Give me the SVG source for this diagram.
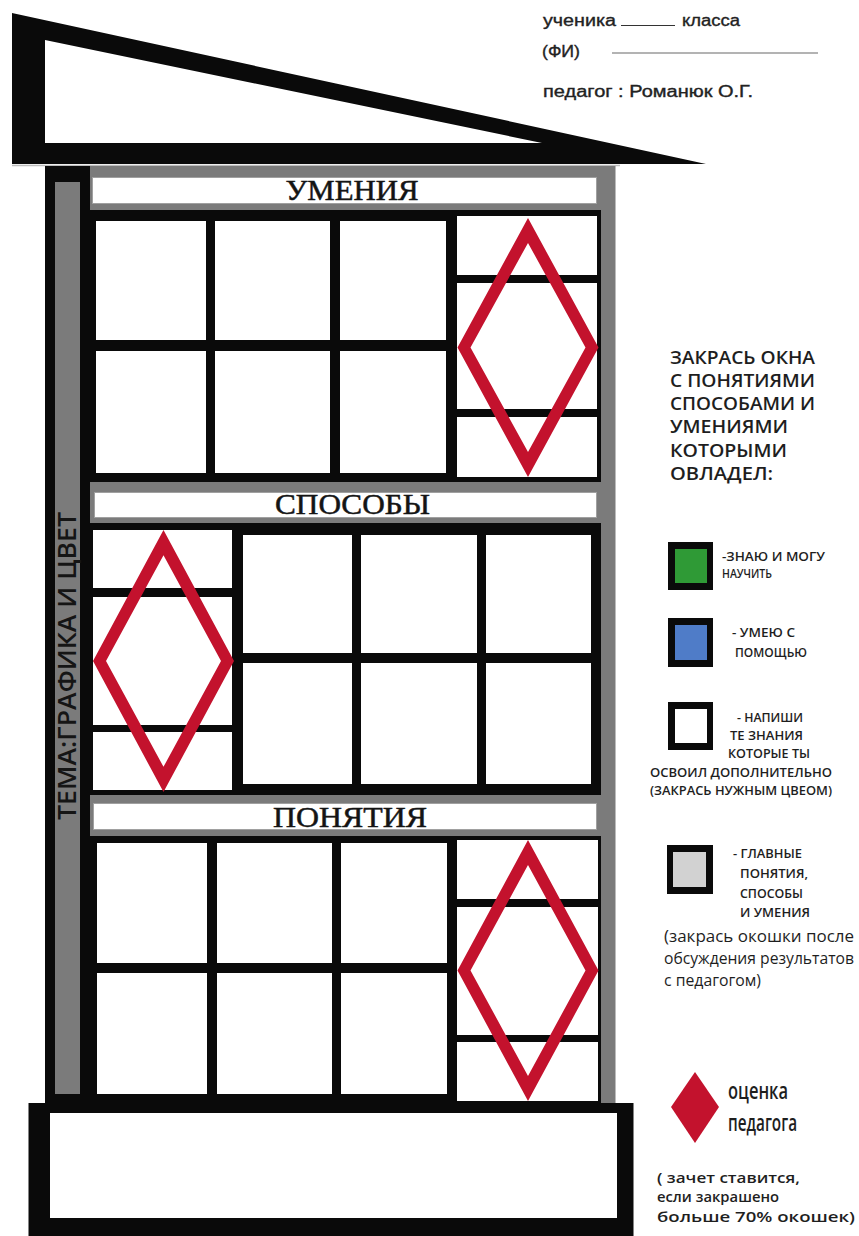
<svg xmlns="http://www.w3.org/2000/svg" xmlns:xlink="http://www.w3.org/1999/xlink" width="859" height="1236" viewBox="0 0 859 1236">
<style>
.blk{fill:#0a0a0a}
.cell{fill:#ffffff}
.gry{fill:#7b7b7b}
.lbl{fill:#ffffff;stroke:#a0a0a0;stroke-width:1}
.dia{fill:#c3122d;fill-rule:evenodd}
.sec{font-family:"Liberation Serif","Times New Roman",serif;font-size:30px;fill:#141414;text-anchor:middle;stroke:#141414;stroke-width:0.5}
.hdr{font-family:"Liberation Sans",Arial,sans-serif;font-size:16px;fill:#222;stroke:#222;stroke-width:0.35}
.lg{font-family:"Open Sans","Liberation Sans",sans-serif;fill:#1e1e1e;font-weight:600}
.big{font-size:18.5px}
.sm{font-size:13px}
.md{font-size:16px;font-weight:400}
</style>
<defs>
<path id="dia" class="dia" d="M0,-130 L70.5,0 L0,130 L-70.5,0 Z M0,-105 L-57.5,0 L0,105 L57.5,0 Z"/>
</defs>
<rect width="859" height="1236" fill="#ffffff"/>

<g id="roof">
<path class="blk" fill-rule="evenodd" d="M12,13 L706,164 L12,164 Z M45,40 L45,143 L542,143 Z"/>
<line x1="12" y1="165.5" x2="620" y2="165.5" stroke="#bdbdbd" stroke-width="1.5"/>
</g>

<g id="header">
<text class="hdr" x="543" y="26" textLength="73" lengthAdjust="spacingAndGlyphs">ученика</text>
<line x1="621" y1="25.5" x2="675" y2="25.5" stroke="#333" stroke-width="1"/>
<text class="hdr" x="682" y="26" textLength="58" lengthAdjust="spacingAndGlyphs">класса</text>
<text class="hdr" x="542" y="57" textLength="38" lengthAdjust="spacingAndGlyphs">(ФИ)</text>
<line x1="612" y1="53" x2="818" y2="53" stroke="#9a9a9a" stroke-width="1.5"/>
<text class="hdr" x="543" y="97" textLength="210" lengthAdjust="spacingAndGlyphs">педагог : Романюк О.Г.</text>
</g>

<g id="building">
<rect class="blk" x="45" y="166" width="46" height="937"/>
<rect class="gry" x="90" y="166" width="525.5" height="937"/>
<rect class="gry" x="55" y="182" width="25" height="912"/>
<text x="0" y="0" transform="translate(75.5,666) rotate(-90)" text-anchor="middle" font-family="'Open Sans','Liberation Sans',sans-serif" font-size="25" font-weight="600" fill="#151515" textLength="308" lengthAdjust="spacingAndGlyphs">ТЕМА:ГРАФИКА И ЦВЕТ</text>
</g>

<g id="section-umeniya">
<rect class="lbl" x="92.5" y="177.5" width="504" height="26"/>
<text class="sec" x="352" y="200" textLength="133" lengthAdjust="spacingAndGlyphs">УМЕНИЯ</text>
<rect class="blk" x="86" y="210" width="515" height="272"/>
<rect class="cell" x="96" y="221" width="110" height="119"/>
<rect class="cell" x="215" y="221" width="115" height="119"/>
<rect class="cell" x="340" y="221" width="106" height="119"/>
<rect class="cell" x="96" y="351" width="110" height="122"/>
<rect class="cell" x="215" y="351" width="115" height="122"/>
<rect class="cell" x="340" y="351" width="106" height="122"/>
<rect class="cell" x="457" y="216" width="140" height="59"/>
<rect class="cell" x="457" y="283" width="140" height="126"/>
<rect class="cell" x="457" y="417" width="140" height="60"/>
<use xlink:href="#dia" href="#dia" transform="translate(528,347.5) scale(1,0.996)"/>
</g>

<g id="section-sposoby">
<rect class="lbl" x="94.5" y="492.5" width="502" height="25"/>
<text class="sec" x="352.5" y="514" textLength="155" lengthAdjust="spacingAndGlyphs">СПОСОБЫ</text>
<rect class="blk" x="86" y="523" width="515" height="272"/>
<rect class="cell" x="93" y="530" width="139" height="58"/>
<rect class="cell" x="93" y="597" width="139" height="128"/>
<rect class="cell" x="93" y="732" width="139" height="58"/>
<rect class="cell" x="243" y="535" width="109" height="118"/>
<rect class="cell" x="361" y="535" width="116" height="118"/>
<rect class="cell" x="486" y="535" width="105" height="118"/>
<rect class="cell" x="243" y="663" width="109" height="121"/>
<rect class="cell" x="361" y="663" width="116" height="121"/>
<rect class="cell" x="486" y="663" width="105" height="121"/>
<use xlink:href="#dia" href="#dia" transform="translate(163.5,661) scale(1,1.008)"/>
</g>

<g id="section-ponyatiya">
<rect class="lbl" x="93.5" y="803.5" width="503" height="26"/>
<text class="sec" x="350" y="827" textLength="154" lengthAdjust="spacingAndGlyphs">ПОНЯТИЯ</text>
<rect class="blk" x="86" y="836" width="515" height="267"/>
<rect class="cell" x="97" y="843" width="110" height="120"/>
<rect class="cell" x="217" y="843" width="115" height="120"/>
<rect class="cell" x="341" y="843" width="106" height="120"/>
<rect class="cell" x="97" y="973" width="110" height="121"/>
<rect class="cell" x="217" y="973" width="115" height="121"/>
<rect class="cell" x="341" y="973" width="106" height="121"/>
<rect class="cell" x="457" y="840" width="141" height="59"/>
<rect class="cell" x="457" y="907" width="141" height="128"/>
<rect class="cell" x="457" y="1042" width="141" height="59"/>
<use xlink:href="#dia" href="#dia" transform="translate(528,970.5) scale(1,1.004)"/>
</g>

<g id="base">
<rect class="blk" x="28.5" y="1103" width="605" height="133"/>
<rect class="cell" x="50" y="1113" width="567" height="105"/>
</g>

<g id="legend-title">
<text class="lg big" x="670" y="363.5" textLength="145" lengthAdjust="spacingAndGlyphs">ЗАКРАСЬ ОКНА</text>
<text class="lg big" x="670" y="386.5" textLength="145" lengthAdjust="spacingAndGlyphs">С ПОНЯТИЯМИ</text>
<text class="lg big" x="670" y="409.5" textLength="145" lengthAdjust="spacingAndGlyphs">СПОСОБАМИ И</text>
<text class="lg big" x="670" y="433" textLength="118" lengthAdjust="spacingAndGlyphs">УМЕНИЯМИ</text>
<text class="lg big" x="670" y="456.5" textLength="117" lengthAdjust="spacingAndGlyphs">КОТОРЫМИ</text>
<text class="lg big" x="670" y="480" textLength="103" lengthAdjust="spacingAndGlyphs">ОВЛАДЕЛ:</text>
</g>

<g id="legend-green">
<rect class="blk" x="668" y="542" width="45" height="48"/>
<rect x="675" y="549" width="32" height="34" fill="#2f9a36"/>
<text class="lg sm" x="722" y="561" textLength="103" lengthAdjust="spacingAndGlyphs">-ЗНАЮ И МОГУ</text>
<text class="lg sm" x="722" y="578" textLength="50" lengthAdjust="spacingAndGlyphs">НАУЧИТЬ</text>
</g>

<g id="legend-blue">
<rect class="blk" x="668" y="618" width="45" height="49"/>
<rect x="675" y="625" width="32" height="35" fill="#4f7cc8"/>
<text class="lg sm" x="732" y="637" textLength="63" lengthAdjust="spacingAndGlyphs">- УМЕЮ С</text>
<text class="lg sm" x="735" y="656.5" textLength="72" lengthAdjust="spacingAndGlyphs">ПОМОЩЬЮ</text>
</g>

<g id="legend-white">
<rect class="blk" x="668" y="702" width="45" height="48"/>
<rect x="675" y="709" width="32" height="34" fill="#ffffff"/>
<text class="lg sm" x="737" y="721.5" textLength="66" lengthAdjust="spacingAndGlyphs">- НАПИШИ</text>
<text class="lg sm" x="730" y="739.5" textLength="73" lengthAdjust="spacingAndGlyphs">ТЕ ЗНАНИЯ</text>
<text class="lg sm" x="728" y="757.5" textLength="82" lengthAdjust="spacingAndGlyphs">КОТОРЫЕ ТЫ</text>
<text class="lg sm" x="650" y="776.5" textLength="182" lengthAdjust="spacingAndGlyphs">ОСВОИЛ ДОПОЛНИТЕЛЬНО</text>
<text class="lg sm" x="650" y="795" textLength="182" lengthAdjust="spacingAndGlyphs">(ЗАКРАСЬ НУЖНЫМ ЦВЕОМ)</text>
</g>

<g id="legend-gray">
<rect class="blk" x="667" y="845" width="46" height="49"/>
<rect x="673" y="852" width="33" height="35" fill="#d2d2d2"/>
<text class="lg sm" x="733" y="858" textLength="69" lengthAdjust="spacingAndGlyphs">- ГЛАВНЫЕ</text>
<text class="lg sm" x="740" y="878" textLength="68" lengthAdjust="spacingAndGlyphs">ПОНЯТИЯ,</text>
<text class="lg sm" x="740" y="898" textLength="63" lengthAdjust="spacingAndGlyphs">СПОСОБЫ</text>
<text class="lg sm" x="740" y="917" textLength="70" lengthAdjust="spacingAndGlyphs">И УМЕНИЯ</text>
<text class="lg md" x="664" y="942" textLength="190" lengthAdjust="spacingAndGlyphs">(закрась окошки после</text>
<text class="lg md" x="664" y="964" textLength="190" lengthAdjust="spacingAndGlyphs">обсуждения результатов</text>
<text class="lg md" x="664" y="986" textLength="97" lengthAdjust="spacingAndGlyphs">с педагогом)</text>
</g>

<g id="legend-teacher">
<polygon points="695,1072 719,1107 695,1143 671,1107" fill="#c3122d"/>
<text class="lg" x="728" y="1099" font-size="24" font-weight="400" textLength="60" lengthAdjust="spacingAndGlyphs">оценка</text>
<text class="lg" x="728" y="1131" font-size="24" font-weight="400" textLength="69" lengthAdjust="spacingAndGlyphs">педагога</text>
<text class="lg" x="657" y="1183" font-size="15" font-weight="400" textLength="143" lengthAdjust="spacingAndGlyphs">( зачет ставится,</text>
<text class="lg" x="657" y="1202" font-size="15" font-weight="400" textLength="122" lengthAdjust="spacingAndGlyphs">если закрашено</text>
<text class="lg" x="657" y="1222" font-size="15" font-weight="400" textLength="198" lengthAdjust="spacingAndGlyphs">больше 70% окошек)</text>
</g>
</svg>
